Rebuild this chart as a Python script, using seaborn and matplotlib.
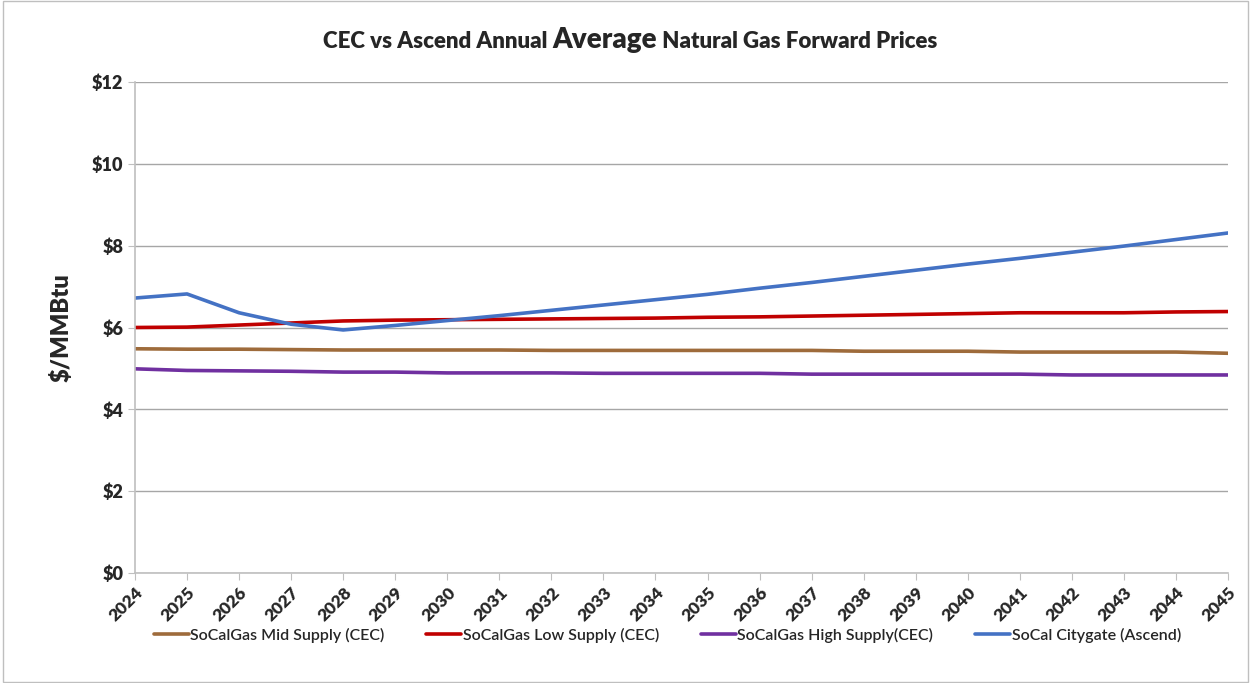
import pandas as pd
import numpy as np
import matplotlib
matplotlib.use("Agg")
import matplotlib.pyplot as plt
import seaborn as sns

# data
years = list(range(2024, 2046))
mid_supply = [5.48, 5.47, 5.47, 5.46, 5.45, 5.45, 5.45, 5.45, 5.44, 5.44, 5.44, 5.44, 5.44, 5.44,
              5.42, 5.42, 5.42, 5.40, 5.40, 5.40, 5.40, 5.37]
low_supply = [6.00, 6.01, 6.06, 6.11, 6.16, 6.18, 6.19, 6.20, 6.21, 6.22, 6.23, 6.25, 6.26, 6.28,
              6.30, 6.32, 6.34, 6.36, 6.36, 6.36, 6.38, 6.39]
high_supply = [4.99, 4.95, 4.94, 4.93, 4.91, 4.91, 4.89, 4.89, 4.89, 4.88, 4.88, 4.88, 4.88, 4.86,
               4.86, 4.86, 4.86, 4.86, 4.84, 4.84, 4.84, 4.84]
citygate = [6.72, 6.82, 6.36, 6.08, 5.94, 6.05, 6.17, 6.29, 6.42, 6.55, 6.68, 6.81, 6.96, 7.10,
            7.25, 7.40, 7.55, 7.69, 7.84, 7.99, 8.15, 8.31]

series_names = ["SoCalGas Mid Supply (CEC)", "SoCalGas Low Supply (CEC)",
                "SoCalGas High Supply(CEC)", "SoCal Citygate (Ascend)"]
colors = ["#9E6B3B", "#C00000", "#7030A0", "#4472C4"]

df = pd.DataFrame({"Year": years,
                   series_names[0]: mid_supply,
                   series_names[1]: low_supply,
                   series_names[2]: high_supply,
                   series_names[3]: citygate})
long_df = df.melt(id_vars="Year", var_name="Series", value_name="Price")

sns.set_style("white")
plt.rcParams["font.family"] = ["Lato", "DejaVu Sans"]

fig = plt.figure(figsize=(12.5, 6.83), dpi=100)
ax = fig.add_axes([135 / 1250, 1 - 573 / 683, (1228 - 135) / 1250, (573 - 82) / 683])

sns.lineplot(data=long_df, x="Year", y="Price", hue="Series", hue_order=series_names,
             palette=colors, linewidth=2.6, ax=ax)

ax.set_xlim(2024, 2045)
ax.set_ylim(0, 12)
ax.set_yticks(range(0, 13, 2))
ax.set_yticklabels([f"${v}" for v in range(0, 13, 2)], fontsize=13, fontweight="heavy")
ax.set_xticks(years)
ax.set_xticklabels([str(y) for y in years], rotation=45, ha="right", rotation_mode="anchor",
                   fontsize=12.5, fontweight="heavy")
ax.yaxis.grid(True, color="#A6A6A6", linewidth=1)
ax.set_axisbelow(True)
for side in ["top", "right"]:
    ax.spines[side].set_visible(False)
for side in ["left", "bottom"]:
    ax.spines[side].set_color("#BFBFBF")
    ax.spines[side].set_linewidth(1.2)
ax.tick_params(axis="both", which="both", direction="out", length=5, color="#BFBFBF",
               bottom=True, left=True)
ax.set_xlabel("")
ax.set_ylabel("$/MMBtu", fontsize=17, fontweight="heavy", labelpad=14)

ax.legend(loc="center", bbox_to_anchor=(0.487, -0.127), ncol=4, frameon=False,
          prop={"size": 11.5, "weight": "semibold"}, handlelength=2.2,
          handletextpad=0.1, columnspacing=2.6)

# title with larger middle word
fig.canvas.draw()
renderer = fig.canvas.get_renderer()
parts = [("CEC vs Ascend Annual ", 16), ("Average", 20), (" Natural Gas Forward Prices", 16)]
texts = []
for s, fs in parts:
    t = fig.text(0, 1 - 48 / 683, s, fontsize=fs, fontweight="heavy", va="baseline", ha="left")
    texts.append(t)
total = sum(t.get_window_extent(renderer).width for t in texts)
x = 630 - total / 2
for t in texts:
    w = t.get_window_extent(renderer).width
    t.set_x(x / 1250)
    x += w

# light outer border
fig.patches.append(plt.Rectangle((0.002, 0.002), 0.996, 0.996, transform=fig.transFigure,
                                 fill=False, edgecolor="#BFBFBF", linewidth=1))

fig.savefig("out.png", dpi=100)
